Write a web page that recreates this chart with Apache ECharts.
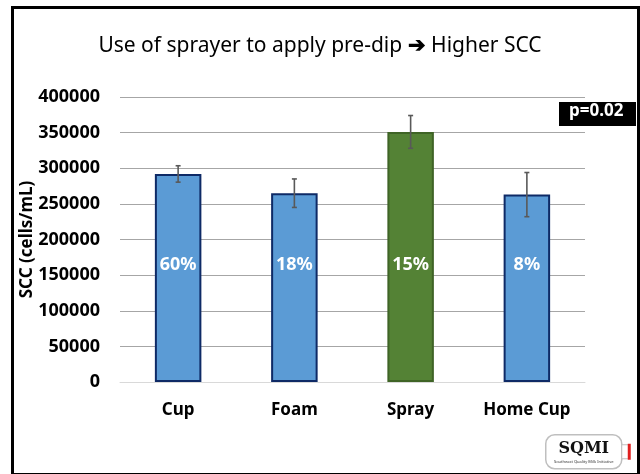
<html>
<head>
    <meta charset="utf-8">
    <title>SCC by pre-dip method</title>
    <style>
        body { margin: 0; background: #fff; }
    </style>
    <script src="https://cdn.jsdelivr.net/npm/echarts@6/dist/echarts.min.js"></script>
</head>
<body>
<div id="main" style="width: 640px;height:474px;"></div>
<script>

// data
var methods = ['Cup', 'Foam', 'Spray', 'Home Cup'];
var sccMean = [292000, 265000, 351000, 263000];
var sccErr = [11500, 20000, 23000, 31000];
var shareLabels = ['60%', '18%', '15%', '8%'];
var yTicks = [0, 50000, 100000, 150000, 200000, 250000, 300000, 350000, 400000];
var highlight = 'Spray';
var pText = 'p=0.02';

var fontFam = '"Noto Sans", "Open Sans", sans-serif';
var myChart = echarts.init(document.getElementById('main'));

// bar items, the highlighted method in green
var barData = sccMean.map(function (v, i) {
    var hi = methods[i] === highlight;
    return {
        value: v,
        itemStyle: {
            color: hi ? '#548235' : '#5B9BD5',
            borderColor: hi ? '#3F6426' : '#0E2A66',
            borderWidth: 2
        },
        label: { formatter: shareLabels[i] }
    };
});

// error bars: [index, low, high]
var errData = sccMean.map(function (v, i) {
    return [i, v - sccErr[i], v + sccErr[i]];
});

function renderErr(params, api) {
    var lo = api.coord([api.value(0), api.value(1)]);
    var hi = api.coord([api.value(0), api.value(2)]);
    var cap = 2.5;
    var st = { stroke: '#595959', lineWidth: 1.6 };
    return {
        type: 'group',
        children: [
            { type: 'line', shape: { x1: lo[0], y1: lo[1], x2: hi[0], y2: hi[1] }, style: st },
            { type: 'line', shape: { x1: lo[0] - cap, y1: lo[1], x2: lo[0] + cap, y2: lo[1] }, style: st },
            { type: 'line', shape: { x1: hi[0] - cap, y1: hi[1], x2: hi[0] + cap, y2: hi[1] }, style: st }
        ]
    };
}

var option = {
    animation: false,
    backgroundColor: '#fff',
    title: {
        text: 'Use of sprayer to apply pre-dip {b|\u2794} Higher SCC',
        left: 'center',
        top: 31,
        textStyle: {
            fontFamily: fontFam,
            fontSize: 21,
            fontWeight: 'normal',
            color: '#000',
            rich: {
                b: { fontFamily: fontFam, fontSize: 21, fontWeight: 'bold', color: '#000' }
            }
        }
    },
    grid: { left: 120, right: 55, top: 97, bottom: 92 },
    xAxis: {
        type: 'category',
        data: methods,
        axisLine: { lineStyle: { color: '#D9D9D9', width: 1 } },
        axisTick: { length: 6, lineStyle: { color: '#D9D9D9' } },
        axisLabel: {
            margin: 20,
            color: '#000',
            fontFamily: fontFam,
            fontSize: 17,
            fontWeight: 'bold'
        }
    },
    yAxis: {
        type: 'value',
        min: yTicks[0],
        max: yTicks[yTicks.length - 1],
        interval: yTicks[1] - yTicks[0],
        name: 'SCC (cells/mL)',
        nameLocation: 'middle',
        nameGap: 84,
        nameMoveOverlap: false,
        nameTextStyle: {
            color: '#000',
            fontFamily: fontFam,
            fontSize: 17,
            fontWeight: 'bold'
        },
        axisLine: { show: false },
        axisTick: { show: false },
        axisLabel: {
            margin: 20,
            color: '#000',
            fontFamily: fontFam,
            fontSize: 18,
            fontWeight: 'bold',
            formatter: function (v) { return String(v); }
        },
        splitLine: { lineStyle: { color: '#A6A6A6', width: 1 } }
    },
    series: [{
        type: 'bar',
        data: barData,
        barWidth: '40%',
        label: {
            show: true,
            position: 'insideBottom',
            distance: 108,
            color: '#fff',
            fontFamily: fontFam,
            fontSize: 18,
            fontWeight: 'bold'
        },
        z: 2
    }, {
        type: 'custom',
        data: errData,
        renderItem: renderErr,
        encode: { x: 0, y: [1, 2] },
        z: 3
    }],
    graphic: [
        // outer frame
        { type: 'rect', left: 10, top: 5, z: 100, silent: true,
          shape: { width: 626, height: 467 },
          style: { fill: 'none', stroke: '#000', lineWidth: 3 } },
        // p value box
        { type: 'rect', left: 559, top: 102, z: 100,
          shape: { width: 77, height: 24 }, style: { fill: '#000' } },
        { type: 'text', left: 569, top: 103, z: 101,
          style: { text: pText, fill: '#fff', font: 'bold 17px ' + fontFam } },
        // SQMI logo
        { type: 'group', left: 545, top: 434, z: 100, children: [
            { type: 'rect', shape: { x: 0, y: 0, width: 76, height: 34, r: 9 },
              style: { fill: '#fff', stroke: '#BFBFBF', lineWidth: 1.5 } },
            { type: 'rect', shape: { x: 76, y: 10, width: 7, height: 14 },
              style: { fill: '#fff', stroke: '#BFBFBF', lineWidth: 1 } },
            { type: 'rect', shape: { x: 82, y: 9, width: 3, height: 16 },
              style: { fill: '#E02020' } },
            { type: 'text', x: 38, y: 6, style: {
                text: 'SQMI', fill: '#111', align: 'center',
                font: 'bold 16px "DejaVu Serif", serif' } },
            { type: 'text', x: 38, y: 25, style: {
                text: 'Southeast Quality Milk Initiative', fill: '#333', align: 'center',
                font: '4px "Noto Sans", sans-serif' } }
        ] }
    ]
};

myChart.setOption(option);
</script>
</body>
</html>
